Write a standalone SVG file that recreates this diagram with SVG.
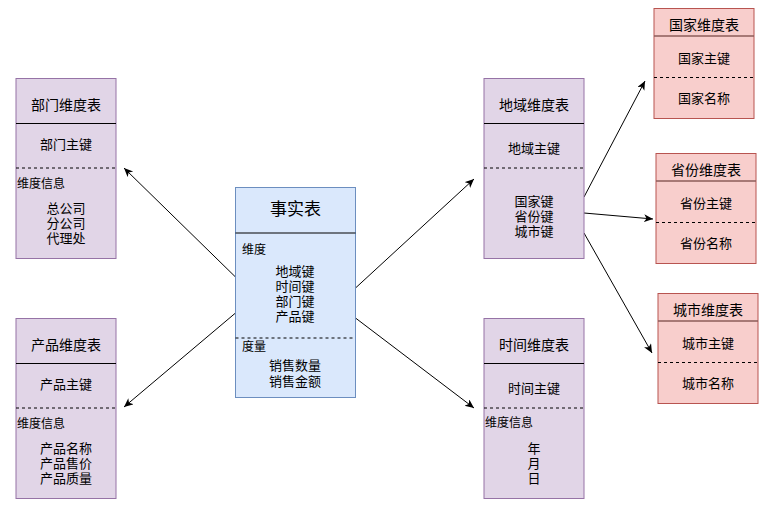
<svg xmlns="http://www.w3.org/2000/svg" width="766" height="510" viewBox="0 0 766 510">
<style>
text{font-family:"Liberation Sans","Noto Sans CJK SC",sans-serif;font-size:13px;fill:#000;dominant-baseline:central}
.c{text-anchor:middle}
.l{text-anchor:start;font-size:12px}
.t{font-size:14px}
.big{font-size:17px}
.purple{fill:#e1d5e7;stroke:#9673a6;stroke-width:1}
.pink{fill:#f8cecc;stroke:#b85450;stroke-width:1}
.blue{fill:#dae8fc;stroke:#6c8ebf;stroke-width:1}
.hl{stroke:#000;stroke-width:1}
.hlp{stroke:#8c5c5a;stroke-width:1.5}
.dl{stroke:#000;stroke-width:1;stroke-dasharray:3 3}
.edge{stroke:#000;stroke-width:1;fill:none;marker-end:url(#arr)}
</style>
<defs>
<marker id="arr" markerUnits="userSpaceOnUse" markerWidth="12" markerHeight="10" refX="9" refY="4" orient="auto">
<path d="M0,0 L9,4 L0,8 L2.5,4 Z" fill="#000"/>
</marker>
</defs>
<rect width="766" height="510" fill="#fff"/>
<g id="connectors">
<line class="edge" x1="235.5" y1="277" x2="124" y2="168"/>
<line class="edge" x1="235.5" y1="313" x2="124" y2="407"/>
<line class="edge" x1="355.5" y1="288" x2="474" y2="179"/>
<line class="edge" x1="355.5" y1="318" x2="474" y2="408"/>
<line class="edge" x1="584" y1="197" x2="645" y2="81"/>
<line class="edge" x1="584" y1="213" x2="653" y2="219"/>
<line class="edge" x1="584" y1="233" x2="652" y2="353"/>
</g>
<g id="fact">
<rect class="blue" x="235.5" y="187.5" width="120" height="210"/>
<line class="hl" x1="235.5" y1="233" x2="355.5" y2="233"/>
<line class="dl" x1="235.5" y1="338" x2="355.5" y2="338"/>
<text class="c big" x="295.5" y="209">事实表</text>
<text class="l" x="242" y="250">维度</text>
<text class="c" x="295" y="271">地域键</text>
<text class="c" x="295" y="286">时间键</text>
<text class="c" x="295" y="301">部门键</text>
<text class="c" x="295" y="316">产品键</text>
<text class="l" x="242" y="347">度量</text>
<text class="c" x="295" y="365">销售数量</text>
<text class="c" x="295" y="381">销售金额</text>
</g>
<g id="dept">
<rect class="purple" x="16" y="78.5" width="100" height="180"/>
<line class="hl" x1="16" y1="123.5" x2="116" y2="123.5"/>
<line class="dl" x1="16" y1="168" x2="116" y2="168"/>
<text class="c t" x="66" y="105">部门维度表</text>
<text class="c" x="66" y="144">部门主键</text>
<text class="l" x="17" y="184">维度信息</text>
<text class="c" x="66" y="208">总公司</text>
<text class="c" x="66" y="223">分公司</text>
<text class="c" x="66" y="238">代理处</text>
</g>
<g id="product">
<rect class="purple" x="16" y="318.5" width="100" height="180"/>
<line class="hl" x1="16" y1="363.5" x2="116" y2="363.5"/>
<line class="dl" x1="16" y1="408" x2="116" y2="408"/>
<text class="c t" x="66" y="345">产品维度表</text>
<text class="c" x="66" y="384">产品主键</text>
<text class="l" x="17" y="424">维度信息</text>
<text class="c" x="66" y="448">产品名称</text>
<text class="c" x="66" y="463">产品售价</text>
<text class="c" x="66" y="478">产品质量</text>
</g>
<g id="region">
<rect class="purple" x="484" y="78.5" width="100" height="180"/>
<line class="hl" x1="484" y1="123.5" x2="584" y2="123.5"/>
<line class="dl" x1="484" y1="168" x2="584" y2="168"/>
<text class="c t" x="534" y="105">地域维度表</text>
<text class="c" x="534" y="148">地域主键</text>
<text class="c" x="534" y="201">国家键</text>
<text class="c" x="534" y="216">省份键</text>
<text class="c" x="534" y="231">城市键</text>
</g>
<g id="time">
<rect class="purple" x="484" y="318.5" width="100" height="180"/>
<line class="hl" x1="484" y1="363.5" x2="584" y2="363.5"/>
<line class="dl" x1="484" y1="408" x2="584" y2="408"/>
<text class="c t" x="534" y="345">时间维度表</text>
<text class="c" x="534" y="388">时间主键</text>
<text class="l" x="485" y="423">维度信息</text>
<text class="c" x="534" y="448">年</text>
<text class="c" x="534" y="463">月</text>
<text class="c" x="534" y="478">日</text>
</g>
<g id="country">
<rect class="pink" x="654" y="8.5" width="100" height="110"/>
<line class="hlp" x1="654" y1="36" x2="754" y2="36"/>
<line class="dl" x1="654" y1="77.5" x2="754" y2="77.5"/>
<text class="c t" x="704" y="25">国家维度表</text>
<text class="c" x="704" y="58">国家主键</text>
<text class="c" x="704" y="98">国家名称</text>
</g>
<g id="province">
<rect class="pink" x="656" y="153.5" width="100" height="110"/>
<line class="hlp" x1="656" y1="181" x2="756" y2="181"/>
<line class="dl" x1="656" y1="222.5" x2="756" y2="222.5"/>
<text class="c t" x="706" y="170">省份维度表</text>
<text class="c" x="706" y="203">省份主键</text>
<text class="c" x="706" y="243">省份名称</text>
</g>
<g id="city">
<rect class="pink" x="658" y="293.5" width="100" height="110"/>
<line class="hlp" x1="658" y1="321" x2="758" y2="321"/>
<line class="dl" x1="658" y1="362.5" x2="758" y2="362.5"/>
<text class="c t" x="708" y="310">城市维度表</text>
<text class="c" x="708" y="343">城市主键</text>
<text class="c" x="708" y="383">城市名称</text>
</g>
</svg>
